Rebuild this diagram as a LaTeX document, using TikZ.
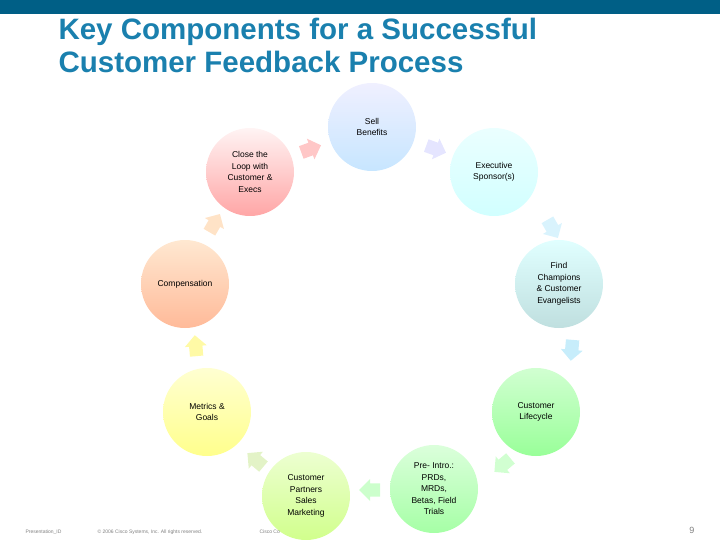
\documentclass[tikz,border=0pt]{standalone}
\usepackage{fontspec}
\setmainfont{Liberation Sans}
\usetikzlibrary{shapes.arrows}
\definecolor{bar}{HTML}{005F86}
\definecolor{ttl}{HTML}{1A80AE}
\begin{document}
\begin{tikzpicture}[x=1pt,y=-1pt,
  circ/.style 2 args={circle,minimum size=88pt,inner sep=0pt,align=center,font=\fontsize{8.5}{11.5}\selectfont,top color=#1,bottom color=#2},
  arr/.style={single arrow,minimum height=21pt,minimum width=22pt,single arrow head extend=4pt,inner xsep=0pt,inner ysep=6pt,fill=#1,draw=none}]
\useasboundingbox (0,0) rectangle (720,540);
\fill[bar] (0,0) rectangle (720,14);
\node[anchor=north west,text=ttl,align=left,font=\fontsize{29.5}{33}\selectfont\bfseries] (title) at (55,15) {Key Components for a Successful\\Customer Feedback Process};
\node[circ={blue!6}{blue!45!cyan!22}] (sell) at (372,127) {Sell\\Benefits};
\node[circ={cyan!8}{cyan!18}] (exec) at (494,172) {Executive\\Sponsor(s)};
\node[circ={cyan!12}{teal!25}] (find) at (559,284) {Find\\Champions\\\& Customer\\Evangelists};
\node[circ={green!18}{green!40}] (life) at (536,412) {Customer\\Lifecycle};
\node[circ={green!14}{green!35}] (pre) at (434,489) {Pre- Intro.:\\PRDs,\\MRDs,\\Betas, Field\\Trials};
\node[circ={yellow!60!green!18}{yellow!60!green!45}] (cust) at (306,496) {Customer\\Partners\\Sales\\Marketing};
\node[circ={yellow!18}{yellow!45}] (metr) at (207,412) {Metrics \&\\Goals};
\node[circ={orange!18}{red!35!orange!40}] (comp) at (185,284) {Compensation};
\node[circ={pink!18}{red!35}] (close) at (250,172) {Close the\\Loop with\\Customer \&\\Execs};
\node[arr=red!22,rotate=20] (a1) at (308,150) {};
\node[arr=blue!10,rotate=-20] (a2) at (433,148) {};
\node[arr=cyan!15,rotate=-60] (a3) at (551,226) {};
\node[arr=cyan!22,rotate=-95] (a4) at (572,347) {};
\node[arr=green!18,rotate=-140] (a5) at (505,463) {};
\node[arr=green!20,rotate=180] (a6) at (373,490) {};
\node[arr=yellow!50!green!22,rotate=140] (a7) at (258,462) {};
\node[arr=yellow!35,rotate=95] (a8) at (196,349) {};
\node[arr=orange!22,rotate=60] (a9) at (213,226) {};
\begin{scope}[font=\fontsize{5}{6}\selectfont,text=gray]
\node[anchor=west] (pid) at (22,532) {Presentation\_ID};
\node[anchor=west] (copy) at (94,532) {© 2006 Cisco Systems, Inc. All rights reserved.};
\node[anchor=west] (cc) at (256,532) {Cisco Co};
\node[anchor=east,font=\fontsize{9}{10}\selectfont] (pg) at (698,530) {9};
\end{scope}
\end{tikzpicture}
\end{document}
